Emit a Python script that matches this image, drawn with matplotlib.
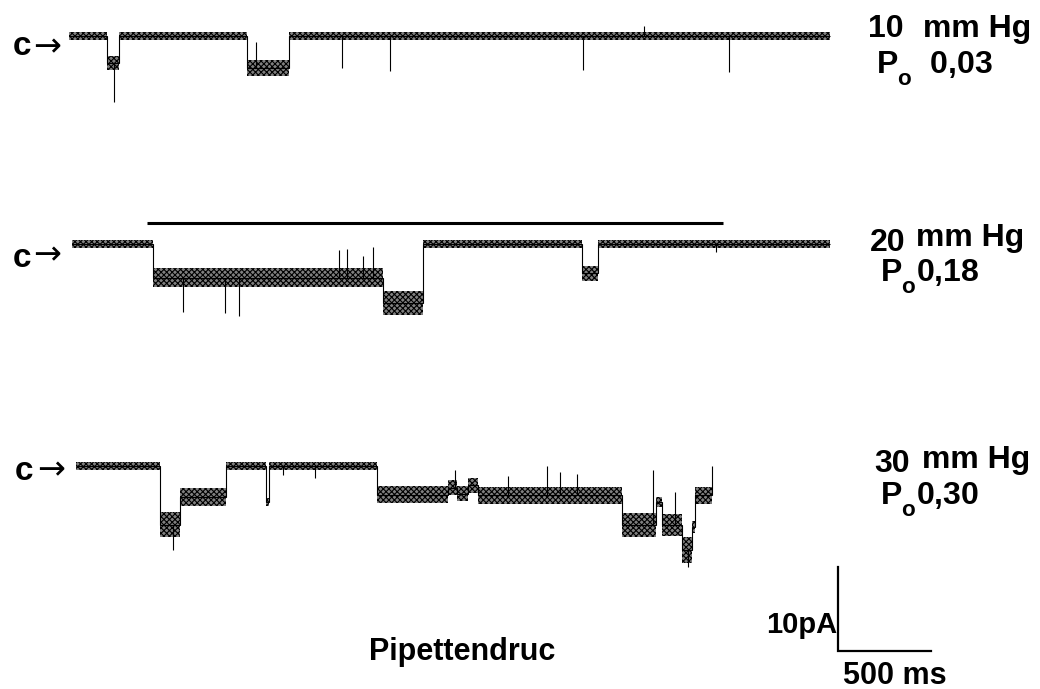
import numpy as np
import matplotlib
matplotlib.use("Agg")
import matplotlib.pyplot as plt

try:
    import matplotlib._mathtext as _mt
    _mt.FontConstantsBase.sub1 = 0.75
    _mt.FontConstantsBase.sub2 = 0.75
except Exception:
    pass

# ---------------- data (time in ms, current in pA, closed level = 0) ----------------
# Trace 1 : 10 mm Hg
t1_edges = [0, 204, 269, 957, 1183, 4090]
t1_levels = [0, -3.2, 0, -3.8, 0]
t1_noise = [0.5, 0.8, 0.5, 1.0, 0.5]
t1_spike_t = [242, 1005, 1468, 1726, 2763, 3091, 3548]
t1_spike_peak = [-7.9, -0.7, -3.8, -4.2, -4.0, 1.2, -4.3]

# Trace 2 : 20 mm Hg
t2_edges = [0, 435, 1672, 1887, 2742, 2828, 4075]
t2_levels = [0, -4.0, -7.0, 0, -3.5, 0]
t2_noise = [0.5, 1.1, 1.4, 0.5, 0.9, 0.5]
t2_spike_t = [597, 823, 898, 1435, 1478, 1565, 1618, 3462]
t2_spike_peak = [-8.1, -8.2, -8.6, -0.7, -0.6, -1.4, -0.4, -1.0]
pressure_bar_t = [403, 3500]
pressure_bar_level = 2.5

# Trace 3 : 30 mm Hg
t3_edges = [0, 452, 559, 806, 1022, 1038, 1618, 2000, 2050, 2110, 2160,
            2935, 3118, 3151, 3258, 3312, 3328, 3419]
t3_levels = [0, -7.0, -3.7, 0, -4.3, 0, -3.4, -2.6, -3.3, -2.3, -3.5,
             -7.0, -4.3, -7.0, -10.0, -7.3, -3.5]
t3_noise = [0.5, 1.5, 1.1, 0.5, 0.5, 0.5, 1.0, 0.9, 0.9, 0.9, 1.0,
            1.4, 0.6, 1.3, 1.6, 0.7, 1.0]
t3_spike_t = [522, 1113, 1285, 2038, 2323, 2532, 2602, 2694, 3102, 3220, 3290]
t3_spike_peak = [-10.0, -1.1, -1.4, -0.5, -1.2, 0.0, -0.7, -1.0, -0.5, -3.1, -12.0]

pressure_labels = ["10", "20", "30"]
po_labels = ["  0,03", "0,18", "0,30"]
scale_time_ms = 500
scale_current_pA = 10

# ---------------- layout ----------------
W, H, DPI = 1040, 689, 100
MS_PER_PX = 500 / 93.0
PA_PER_PX = 10 / 84.0
BOLD = dict(fontweight="bold", family=["Liberation Sans", "DejaVu Sans"])

plt.rcParams["hatch.linewidth"] = 0.8
plt.rcParams["mathtext.fontset"] = "custom"
plt.rcParams["mathtext.rm"] = "Liberation Sans:bold"
plt.rcParams["mathtext.bf"] = "Liberation Sans:bold"
plt.rcParams["mathtext.it"] = "Liberation Sans:bold"

fig = plt.figure(figsize=(W / DPI, H / DPI), dpi=DPI)
fig.patch.set_facecolor("white")


def fx(px):
    return px / W


def fy(py):
    return 1 - py / H


def trace_axes(x0, base, ytop, ybot):
    ax = fig.add_axes([0, fy(ybot), 1, (ybot - ytop) / H])
    ax.set_xlim(-x0 * MS_PER_PX, (W - x0) * MS_PER_PX)
    ax.set_ylim(-(ybot - base) * PA_PER_PX, (base - ytop) * PA_PER_PX)
    ax.axis("off")
    return ax


def draw_trace(ax, edges, levels, noise, spike_t, spike_peak):
    edges = np.asarray(edges, float)
    levels = np.asarray(levels, float)
    noise = np.asarray(noise, float)
    ax.stairs(levels + noise, edges, baseline=levels - noise, fill=True,
              facecolor="0.5", edgecolor="black", hatch="xxxxxx", linewidth=0)
    ax.stairs(levels, edges, color="black", linewidth=0.8)
    for t, p in zip(spike_t, spike_peak):
        i = np.clip(np.searchsorted(edges, t, side="right") - 1, 0, len(levels) - 1)
        ax.vlines(t, levels[i], p, color="black", linewidth=0.8)


ax1 = trace_axes(69, 36, 0, 150)
draw_trace(ax1, t1_edges, t1_levels, t1_noise, t1_spike_t, t1_spike_peak)

ax2 = trace_axes(72, 244, 150, 380)
draw_trace(ax2, t2_edges, t2_levels, t2_noise, t2_spike_t, t2_spike_peak)
ax2.hlines(pressure_bar_level, pressure_bar_t[0], pressure_bar_t[1],
           color="black", linewidth=2.2)

ax3 = trace_axes(76, 466, 380, 689)
draw_trace(ax3, t3_edges, t3_levels, t3_noise, t3_spike_t, t3_spike_peak)

# scale bar (in trace-3 data units)
sb_t0 = (838 - 76) * MS_PER_PX
sb_i0 = -(651 - 466) * PA_PER_PX
ax3.plot([sb_t0, sb_t0, sb_t0 + scale_time_ms],
         [sb_i0 + scale_current_pA, sb_i0, sb_i0],
         color="black", linewidth=1.6, solid_joinstyle="miter", clip_on=False)

# ---------------- text ----------------
c_pos = [(13, 55, 33, 47), (13, 267, 33, 255), (15, 480, 37, 470)]
for cx, cy, ax_, ay in c_pos:
    fig.text(fx(cx), fy(cy), "c", fontsize=24, ha="left", va="baseline", **BOLD)
    fig.text(fx(ax_), fy(ay), "\u2192", fontsize=24, ha="left", va="center",
             family=["DejaVu Sans"])

num_pos = [(868, 37), (870, 251), (874, 472)]
mm_pos = [(923, 37), (916, 246), (922, 468)]
p_pos = [(876, 73), (880, 281), (880, 504)]
for k in range(3):
    fig.text(fx(num_pos[k][0]), fy(num_pos[k][1]), pressure_labels[k],
             fontsize=23, ha="left", va="baseline", **BOLD)
    fig.text(fx(mm_pos[k][0]), fy(mm_pos[k][1]), "mm Hg",
             fontsize=23, ha="left", va="baseline", **BOLD)
    px, py = p_pos[k]
    fig.text(fx(px), fy(py), r"P$_{\mathrm{o}}$" + po_labels[k], fontsize=23,
             ha="left", va="baseline", **BOLD)

fig.text(fx(837), fy(633), "10pA", fontsize=21, ha="right", va="baseline", **BOLD)
fig.text(fx(843), fy(684), "500 ms", fontsize=22, ha="left", va="baseline", **BOLD)
fig.text(fx(369), fy(660), "Pipettendruc", fontsize=22, ha="left", va="baseline", **BOLD)

fig.savefig("out.png", dpi=DPI, facecolor="white")
